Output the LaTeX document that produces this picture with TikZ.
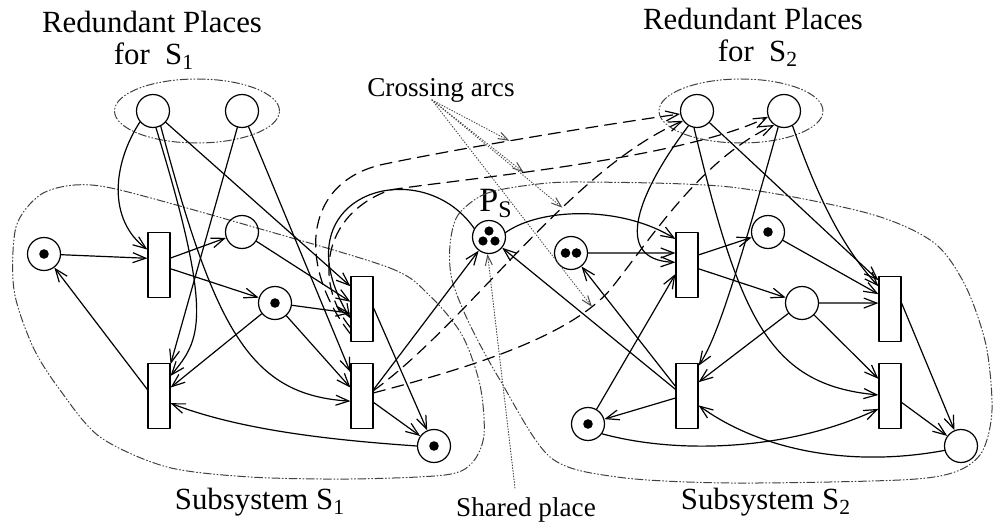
\documentclass[tikz,border=0pt]{standalone}
\usepackage{fontspec}
\setmainfont{Liberation Serif}
\usetikzlibrary{arrows.meta}
\begin{document}
\begin{tikzpicture}[line cap=round,line join=round,x=0.5pt,y=-0.5pt,
	place/.style={circle,draw,line width=0.6pt,minimum size=16.5pt,inner sep=0pt},
	trans/.style={rectangle,draw,line width=0.6pt,minimum width=11pt,minimum height=32.5pt,inner sep=0pt},
	flow/.style={line width=0.6pt,-{Straight Barb[length=6.5pt,width=5pt]}},
	crossflow/.style={flow,dash pattern=on 6pt off 3.5pt},
	region/.style={line width=0.5pt,black!75,dash pattern=on 4pt off 1.2pt on 0.5pt off 1.2pt on 0.5pt off 1.2pt},
	pointer/.style={line width=0.5pt,black!70,dash pattern=on 0.4pt off 1pt,-{Straight Barb[length=5pt,width=3.5pt]}},
	bigtext/.style={font=\fontsize{15.4}{18}\selectfont,inner sep=0pt},
	smalltext/.style={font=\fontsize{13.6}{16}\selectfont,inner sep=0pt}]
						\useasboundingbox (0,0) rectangle (993,529);
						\node[bigtext,anchor=base] (titleA) at (152,33) {Redundant Places};
						\node[bigtext,anchor=base] (forA) at (154,65) {for\ \ S\textsubscript{1}};
						\node[bigtext,anchor=base] (titleB) at (753,30) {Redundant Places};
						\node[bigtext,anchor=base] (forB) at (758,62) {for\ \ S\textsubscript{2}};
						\node[bigtext,anchor=base] (subA) at (260,510) {Subsystem S\textsubscript{1}};
						\node[bigtext,anchor=base] (subB) at (766,510) {Subsystem S\textsubscript{2}};
						\node[smalltext,anchor=base] (cross) at (441,97) {Crossing arcs};
						\node[smalltext,anchor=base] (shared) at (526,517) {Shared place};
						\node[font=\fontsize{17}{20}\selectfont,inner sep=0pt,anchor=base west] (pslabel) at (479,212) {P\textsubscript{S}};
						\draw[region] (197,111) ellipse [x radius=41.25pt, y radius=16pt];
						\draw[region] (741,111) ellipse [x radius=41pt, y radius=16pt];
						\draw[region] plot[smooth cycle] coordinates {(250,226) (390,268) (430,296) (462,335) (480,385) (484,435) (472,463) (445,475) (350,479) (250,477) (167,467) (100,437) (60,390) (33,347) (14,290) (16,227) (40,195) (75,185) (120,190)};
						\draw[region] plot[smooth cycle] coordinates {(458,215) (485,194) (530,185) (583,182) (730,187) (867,213) (933,242) (965,285) (986,345) (992,410) (982,452) (955,472) (900,480) (730,483) (617,477) (550,457) (500,380) (470,325) (452,280) (450,245)};
						\node[place] (r11) at (153,111) {};
						\node[place] (r12) at (242,111) {};
						\node[place] (p1) at (44,254) {};
						\node[place] (p2) at (242,232) {};
						\node[place] (p3) at (275,303) {};
						\node[place] (p4) at (434,446) {};
						\node[trans] (t1) at (159,265) {};
						\node[trans] (t2) at (159,396) {};
						\node[trans] (t3) at (362,309) {};
						\node[trans] (t4) at (362,396) {};
						\node[place] (ps) at (489,237) {};
						\node[place] (r21) at (697,111) {};
						\node[place] (r22) at (784,111) {};
						\node[place] (q1) at (571,253) {};
						\node[place] (q2) at (768,232) {};
						\node[place] (q3) at (802,303) {};
						\node[place] (q4) at (961,446) {};
						\node[place] (q5) at (588,424) {};
						\node[trans] (u1) at (687,265) {};
						\node[trans] (u2) at (890,309) {};
						\node[trans] (u3) at (890,396) {};
						\node[trans] (u4) at (687,396) {};
						\foreach \n in {p1,p3,p4,q2,q5}
						\fill (\n) circle (2.4pt);
						\foreach \dx/\dy in {0/3,-3/-2,3/-2}
						\fill ([xshift=\dx pt,yshift=\dy pt]ps) circle (2.3pt);
						\foreach \dx in {-2.75,2.75}
						\fill ([xshift=\dx pt]q1) circle (2.4pt);
						\draw[flow] (p1) -- (t1.150);
						\draw[flow] (t2.151) -- (p1);
						\draw[flow] (t1.31) -- (p2);
						\draw[flow] (t1.-18) -- (p3);
						\draw[flow] (p2) -- (t3.148);
						\draw[flow] (p3) -- (t3.200);
						\draw[flow] (p3) -- (t4.144);
						\draw[flow] (p3) -- (t2.36);
						\draw[flow] (t3.5) -- (p4);
						\draw[flow] (t4.-29) -- (p4);
						\draw[flow] (p4.180) .. controls (330,440) and (240,430) .. (t2.-32);
						\draw[flow] (t4.29) -- (ps);
						\draw[flow] (ps.150) .. controls (420,150) and (275,195) .. (t3.219);
						\draw[flow] (r11.220) .. controls (112,165) and (108,220) .. (t1.127);
						\draw[flow] (r11.280) .. controls (215,320) and (200,340) .. (t2.60);
						\draw[flow] (r11.297) .. controls (215,330) and (250,395) .. (t4.204);
						\draw[flow] (r11) -- (t3.117);
						\draw[flow] (r12) -- (t2.70);
						\draw[flow] (r12) -- (t4.116);
						\draw[crossflow] (t3.245) .. controls (300,270) and (300,185) .. (380,165) .. controls (450,150) and (600,125) .. (r21.190) coordinate[pos=0.45] (ca);
						\draw[crossflow] (t3.238) .. controls (315,285) and (320,215) .. (390,190) .. controls (450,180) and (680,160) .. (r22.200) coordinate[pos=0.4] (cb);
						\draw[crossflow] (t4.25) .. controls (470,320) and (570,170) .. (r21.215) coordinate[pos=0.63] (cc);
						\draw[crossflow] (t4.15) .. controls (480,365) and (570,335) .. (610,290) coordinate[pos=0.87] (cd) .. controls (650,240) and (700,160) .. (r22.235);
						\coordinate (fan) at ([xshift=-4.5pt,yshift=-1.5pt]cross.base);
						\foreach \c in {ca,cb,cc,cd}
						\draw[pointer] (fan) -- (\c);
						\draw[pointer] ([xshift=-5.5pt,yshift=14.5pt]shared.base) -- (ps.265);
						\draw[flow] (q1) -- (u1.134);
						\draw[flow] (ps.15) .. controls (540,208) and (620,205) .. (u1.114);
						\draw[flow] (r21.240) .. controls (640,190) and (610,260) .. (u1.167);
						\draw[flow] (q5) -- (u1.218);
						\draw[flow] (u4.140) -- (q1);
						\draw[flow] (u4.150) -- (ps);
						\draw[flow] (u4.190) -- (q5);
						\draw[flow] (q5.-35) .. controls (680,455) and (790,450) .. (u3.228);
						\draw[flow] (q4.195) .. controls (850,468) and (760,450) .. (u4.-39);
						\draw[flow] (u1.41) -- (q2);
						\draw[flow] (u1.-18) -- (q3);
						\draw[flow] (q3) -- (u2.153);
						\draw[flow] (q3) -- (u3.124);
						\draw[flow] (q3) -- (u4.50);
						\draw[flow] (q2) -- (u2.128);
						\draw[flow] (u2.27) -- (q4);
						\draw[flow] (u3.-29) -- (q4);
						\draw[flow] (r21) -- (u2.112);
						\draw[flow] (r22.-60) .. controls (815,190) and (840,245) .. (u2.117);
						\draw[flow] (r21.-100) .. controls (740,320) and (770,385) .. (u3.175);
						\draw[flow] (r22.-110) .. controls (727,312) and (712,345) .. (u4.69);
					\end{tikzpicture}
\end{document}
